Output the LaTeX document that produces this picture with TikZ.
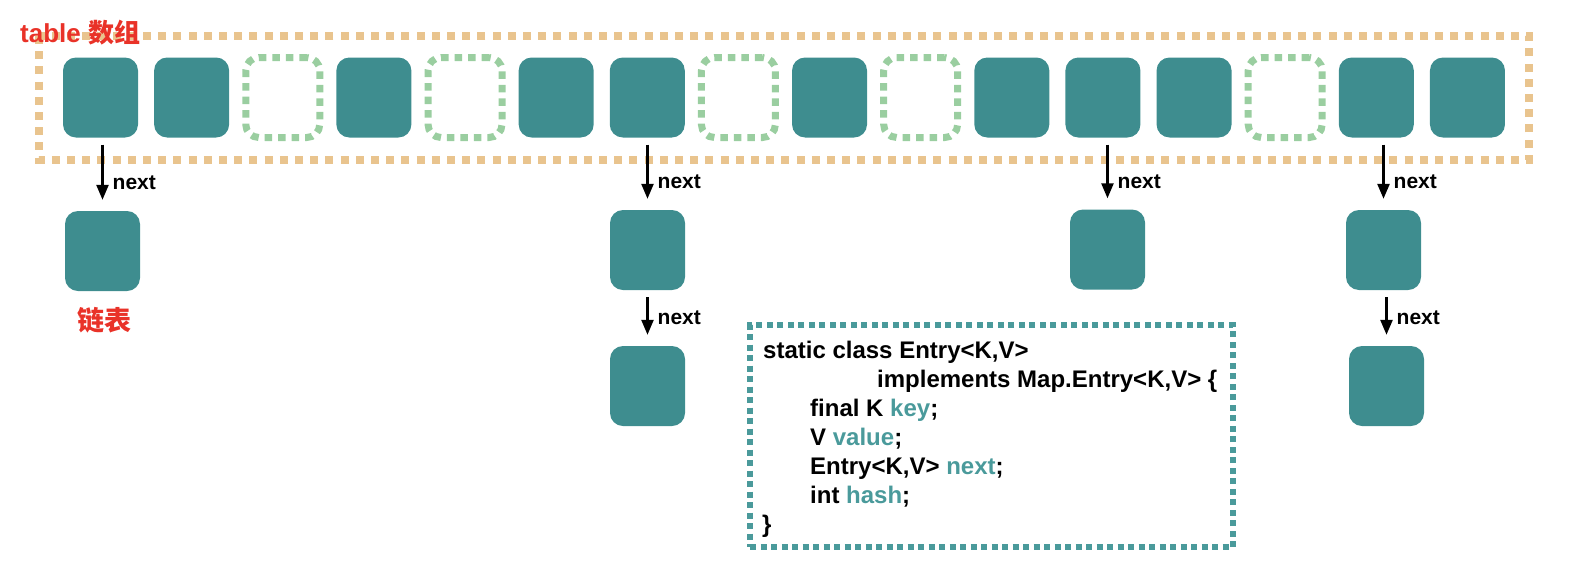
\documentclass[tikz,border=0pt]{standalone}
\usepackage{fontspec}
\setmainfont{Liberation Sans}
\newfontfamily\cjk{Noto Sans CJK SC}
\usetikzlibrary{arrows.meta}
\definecolor{teal}{RGB}{62,141,143}
\definecolor{codeteal}{RGB}{74,154,155}
\definecolor{emptygreen}{RGB}{154,206,160}
\definecolor{frameorange}{RGB}{233,196,142}
\definecolor{labelred}{RGB}{233,50,40}

\tikzset{
	bucket/.style = {draw=none, fill=teal, rounded corners=13pt,
		minimum width=75pt, minimum height=80pt, inner sep=0pt},
	emptybucket/.style = {draw=emptygreen, line width=7pt,
		dash pattern=on 7.5pt off 6pt, rounded corners=13pt,
		minimum width=74pt, minimum height=80pt, inner sep=0pt},
	nextarrow/.style = {line width=2.4pt, -{Triangle[length=15pt,width=12pt]},
		shorten <=7pt, shorten >=11pt},
	nextlabel/.style = {pos=1, anchor=base west, inner sep=0pt,
		xshift=9pt, yshift=21pt, font=\fontsize{21}{21}\selectfont\bfseries},
	codeline/.style = {anchor=base west, inner sep=0pt,
		font=\fontsize{24}{24}\selectfont\bfseries}
}

\begin{document}
\begin{tikzpicture}[x=1pt, y=-1pt]
	\useasboundingbox (0,0) rectangle (1574,582);
	% table frame
	\draw[frameorange, line width=7.5pt, dash pattern=on 8pt off 7.2pt]
		(39,36) rectangle (1529,160);
	\node[anchor=base west, inner sep=0pt, text=labelred,
		font=\fontsize{26}{26}\selectfont\bfseries] (title) at (20,42) {table \cjk\bfseries 数组};
	% buckets of the table
	\foreach \i/\kind in {0/bucket,1/bucket,2/emptybucket,3/bucket,
			4/emptybucket,5/bucket,6/bucket,7/emptybucket,8/bucket,
			9/emptybucket,10/bucket,11/bucket,12/bucket,13/emptybucket,
			14/bucket,15/bucket}
		\node[\kind] (t\i) at ({100.5+91.13*\i},97.5) {};
	% linked lists
	\node[bucket] (c0) at (102.5,251) {};
	\node[bucket] (c6a) at (647.5,250) {};
	\node[bucket] (c6b) at (647.5,386) {};
	\node[bucket] (c11) at (1107.5,249.5) {};
	\node[bucket] (c14a) at (1383.5,250) {};
	\node[bucket] (c14b) at (1386.5,386) {};
	\draw[nextarrow] (c0.north |- t0.south) -- node[nextlabel] {next} (c0.north);
	\draw[nextarrow] (c6a.north |- t6.south) -- node[nextlabel] {next} (c6a.north);
	\draw[nextarrow] (c6a.south) -- node[nextlabel] {next} (c6b.north);
	\draw[nextarrow] (c11.north |- t11.south) -- node[nextlabel] {next} (c11.north);
	\draw[nextarrow] (c14a.north |- t14.south) -- node[nextlabel] {next} (c14a.north);
	\draw[nextarrow] (c14b.north |- c14a.south) -- node[nextlabel] {next} (c14b.north);
	\node[anchor=base, inner sep=0pt, text=labelred,
		font=\fontsize{27}{27}\selectfont\cjk\bfseries] (list) at (104.5,330) {链表};
	% Entry class
	\node[draw=codeteal, line width=6pt, dash pattern=on 6pt off 4.5pt,
		minimum width=483pt, minimum height=222pt, inner sep=0pt] (entry) at (991.5,436) {};
	\node[codeline] (l1) at (763,358) {static class Entry<K,V>};
	\node[codeline] (l2) at (877,387) {implements Map.Entry<K,V> \{};
	\node[codeline] (l3) at (810,416) {final K \textcolor{codeteal}{key};};
	\node[codeline] (l4) at (810,445) {V \textcolor{codeteal}{value};};
	\node[codeline] (l5) at (810,474) {Entry<K,V> \textcolor{codeteal}{next};};
	\node[codeline] (l6) at (810,503) {int \textcolor{codeteal}{hash};};
	\node[codeline] (l7) at (762,532) {\}};
\end{tikzpicture}
\end{document}
